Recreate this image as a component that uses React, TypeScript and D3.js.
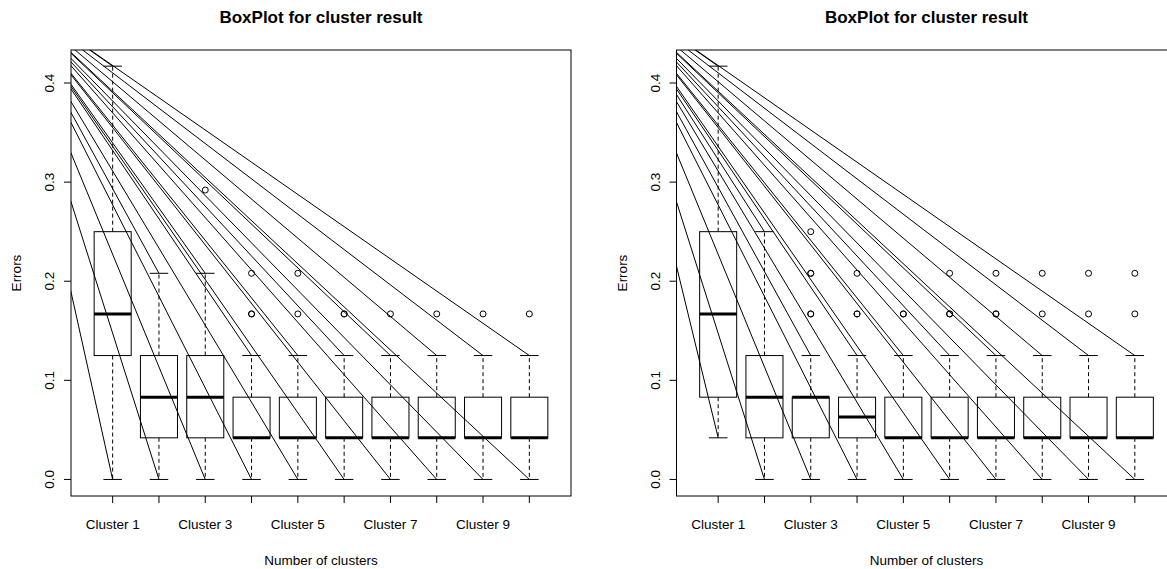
import React from 'react';
import * as d3 from 'd3';

// cluster names on the x axis (R drops every second label because they overlap)
const clusters = ['Cluster 1', 'Cluster 2', 'Cluster 3', 'Cluster 4', 'Cluster 5',
    'Cluster 6', 'Cluster 7', 'Cluster 8', 'Cluster 9', 'Cluster 10'];
const yTicks = [0, 0.1, 0.2, 0.3, 0.4];

// left panel box stats
const leftLower = [0, 0, 0, 0, 0, 0, 0, 0, 0, 0];
const leftQ1 = [0.125, 0.042, 0.042, 0.042, 0.042, 0.042, 0.042, 0.042, 0.042, 0.042];
const leftMedian = [0.167, 0.083, 0.083, 0.042, 0.042, 0.042, 0.042, 0.042, 0.042, 0.042];
const leftQ3 = [0.25, 0.125, 0.125, 0.083, 0.083, 0.083, 0.083, 0.083, 0.083, 0.083];
const leftUpper = [0.417, 0.208, 0.208, 0.125, 0.125, 0.125, 0.125, 0.125, 0.125, 0.125];
// [cluster, value]; repeated points show up as bolder circles
const leftOutliers = [
    [3, 0.292], [4, 0.208], [4, 0.167], [4, 0.167], [5, 0.208], [5, 0.167],
    [6, 0.167], [6, 0.167], [7, 0.167], [8, 0.167], [9, 0.167], [10, 0.167]
];

// right panel box stats
const rightLower = [0.042, 0, 0, 0, 0, 0, 0, 0, 0, 0];
const rightQ1 = [0.083, 0.042, 0.042, 0.042, 0.042, 0.042, 0.042, 0.042, 0.042, 0.042];
const rightMedian = [0.167, 0.083, 0.083, 0.063, 0.042, 0.042, 0.042, 0.042, 0.042, 0.042];
const rightQ3 = [0.25, 0.125, 0.083, 0.083, 0.083, 0.083, 0.083, 0.083, 0.083, 0.083];
const rightUpper = [0.417, 0.25, 0.125, 0.125, 0.125, 0.125, 0.125, 0.125, 0.125, 0.125];
const rightOutliers = [
    [3, 0.25], [3, 0.208], [3, 0.208], [3, 0.167], [3, 0.167],
    [4, 0.208], [4, 0.167], [4, 0.167], [5, 0.167], [5, 0.167],
    [6, 0.208], [6, 0.167], [6, 0.167], [7, 0.208], [7, 0.167], [7, 0.167],
    [8, 0.208], [8, 0.167], [9, 0.208], [9, 0.167], [10, 0.208], [10, 0.167]
];

// all the stray lines start from this (cluster, error) point, off the plot
const rayOrigin = [-1.35, 0.494];

const font = "'Liberation Sans', Arial, sans-serif";
const margin = { top: 50, left: 71 };
const plotW = 500, plotH = 446;
const panelStep = 605.5;

const Panel = ({ id, offset, lower, q1, median, q3, upper, outliers }) => {
    const left = offset + margin.left;
    const x = d3.scaleLinear().domain([0.1, 10.9]).range([left, left + plotW]);
    const y = d3.scaleLinear().domain([-0.0167, 0.4333]).range([margin.top + plotH, margin.top]);
    const bottom = margin.top + plotH;
    const mid = left + plotW / 2;

    const ends = [];
    clusters.forEach((c, i) => {
        ends.push([i + 1, lower[i]]);
        ends.push([i + 1, upper[i]]);
    });

    return (
        <g>
            <defs>
                <clipPath id={'clip' + id}>
                    <rect x={left} y={margin.top} width={plotW} height={plotH} />
                </clipPath>
            </defs>
            <text x={mid} y={23} textAnchor="middle" fontWeight="bold" fontSize={17}>BoxPlot for cluster result</text>

            {clusters.map((c, i) => {
                const cx = x(i + 1);
                return (
                    <g key={c}>
                        <line x1={cx} x2={cx} y1={y(q1[i])} y2={y(lower[i])} stroke="#000" strokeDasharray="4,3" />
                        <line x1={cx} x2={cx} y1={y(q3[i])} y2={y(upper[i])} stroke="#000" strokeDasharray="4,3" />
                        <line x1={x(i + 0.8)} x2={x(i + 1.2)} y1={y(lower[i])} y2={y(lower[i])} stroke="#000" />
                        <line x1={x(i + 0.8)} x2={x(i + 1.2)} y1={y(upper[i])} y2={y(upper[i])} stroke="#000" />
                        <rect x={x(i + 0.6)} y={y(q3[i])} width={x(i + 1.4) - x(i + 0.6)} height={y(q1[i]) - y(q3[i])}
                            fill="none" stroke="#000" />
                        <line x1={x(i + 0.6)} x2={x(i + 1.4)} y1={y(median[i])} y2={y(median[i])} stroke="#000" strokeWidth={3} />
                    </g>
                );
            })}
            {outliers.map((d, i) => (
                <circle key={i} cx={x(d[0])} cy={y(d[1])} r={3} fill="none" stroke="#000" />
            ))}

            <g clipPath={'url(#clip' + id + ')'}>
                {ends.map((d, i) => (
                    <line key={i} x1={x(rayOrigin[0])} y1={y(rayOrigin[1])} x2={x(d[0])} y2={y(d[1])} stroke="#000" />
                ))}
            </g>

            <rect x={left} y={margin.top} width={plotW} height={plotH} fill="none" stroke="#000" />

            {/* y axis */}
            {yTicks.map(t => (
                <g key={t}>
                    <line x1={left - 7} x2={left} y1={y(t)} y2={y(t)} stroke="#000" />
                    <text transform={`translate(${left - 17},${y(t)}) rotate(-90)`} textAnchor="middle" fontSize={13.5}>
                        {d3.format('.1f')(t)}
                    </text>
                </g>
            ))}
            <text transform={`translate(${offset + 21},${margin.top + plotH / 2}) rotate(-90)`} textAnchor="middle" fontSize={13.5}>Errors</text>

            {/* x axis */}
            {clusters.map((c, i) => (
                <g key={c}>
                    <line x1={x(i + 1)} x2={x(i + 1)} y1={bottom} y2={bottom + 7} stroke="#000" />
                    {i % 2 === 0 && (
                        <text x={x(i + 1)} y={bottom + 33} textAnchor="middle" fontSize={13.5}>{c}</text>
                    )}
                </g>
            ))}
            <text x={mid} y={565} textAnchor="middle" fontSize={13.5}>Number of clusters</text>
        </g>
    );
};

const App = () => {
    return (
        <svg width={1167} height={569} fontFamily={font}
            style={{ position: 'absolute', left: 0, top: 0, background: '#fff' }}>
            <rect width={1167} height={569} fill="#fff" />
            <Panel id="a" offset={0} lower={leftLower} q1={leftQ1} median={leftMedian} q3={leftQ3}
                upper={leftUpper} outliers={leftOutliers} />
            <Panel id="b" offset={panelStep} lower={rightLower} q1={rightQ1} median={rightMedian} q3={rightQ3}
                upper={rightUpper} outliers={rightOutliers} />
        </svg>
    );
};

export default App;
